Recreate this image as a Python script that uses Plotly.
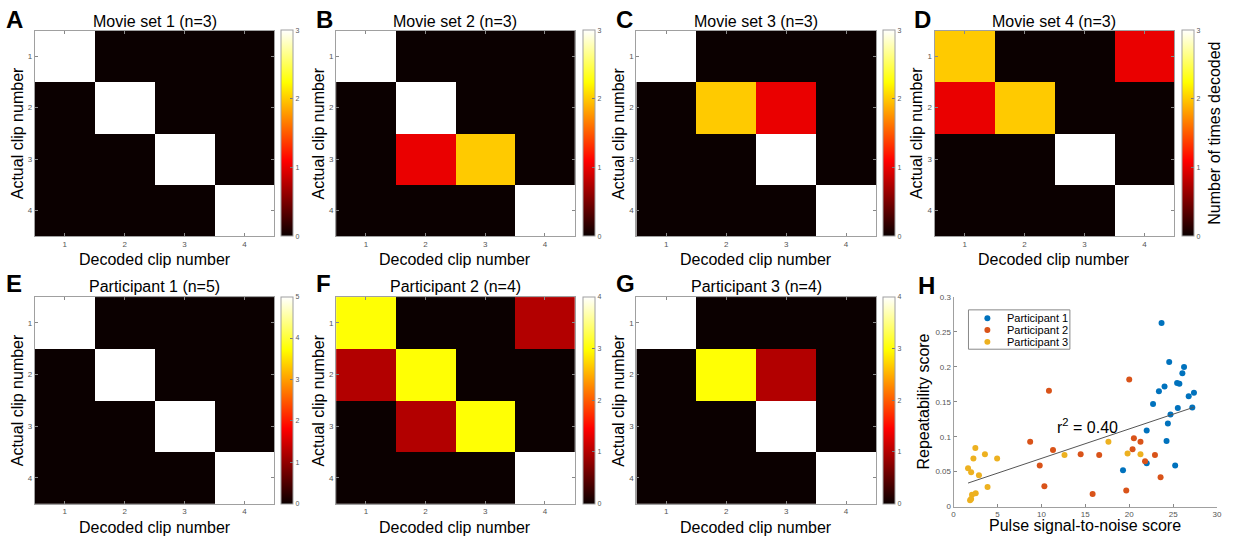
import numpy as np
import plotly.graph_objects as go

W, H = 1233, 546

# Confusion matrices: rows = actual clip, columns = decoded clip
clip_numbers = [1, 2, 3, 4]
movie_set_1 = [[3, 0, 0, 0], [0, 3, 0, 0], [0, 0, 3, 0], [0, 0, 0, 3]]
movie_set_2 = [[3, 0, 0, 0], [0, 3, 0, 0], [0, 1, 2, 0], [0, 0, 0, 3]]
movie_set_3 = [[3, 0, 0, 0], [0, 2, 1, 0], [0, 0, 3, 0], [0, 0, 0, 3]]
movie_set_4 = [[2, 0, 0, 1], [1, 2, 0, 0], [0, 0, 3, 0], [0, 0, 0, 3]]
participant_1 = [[5, 0, 0, 0], [0, 5, 0, 0], [0, 0, 5, 0], [0, 0, 0, 5]]
participant_2 = [[3, 0, 0, 1], [1, 3, 0, 0], [0, 1, 3, 0], [0, 0, 0, 4]]
participant_3 = [[4, 0, 0, 0], [0, 3, 1, 0], [0, 0, 4, 0], [0, 0, 0, 4]]

matrix_titles = ["Movie set 1 (n=3)", "Movie set 2 (n=3)", "Movie set 3 (n=3)",
                 "Movie set 4 (n=3)", "Participant 1 (n=5)", "Participant 2 (n=4)",
                 "Participant 3 (n=4)"]
matrix_letters = ["A", "B", "C", "D", "E", "F", "G"]
matrix_max = [3, 3, 3, 3, 5, 4, 4]

# Pulse SNR vs repeatability, per participant
p1_snr = [23.68, 24.55, 26.24, 26.05, 24.02, 23.38, 25.45, 25.71, 26.77, 27.37,
          22.71, 25.53, 27.18, 24.70, 24.40, 21.99, 24.25, 19.29, 21.99, 25.23]
p1_rep = [0.263, 0.207, 0.200, 0.191, 0.172, 0.165, 0.177, 0.176, 0.158, 0.163,
          0.147, 0.141, 0.142, 0.132, 0.119, 0.109, 0.094, 0.052, 0.062, 0.059]
p2_snr = [10.86, 8.72, 11.32, 9.81, 10.34, 14.47, 20.00, 20.53, 21.28, 20.38,
          22.93, 16.58, 21.80, 23.57, 15.83, 19.66]
p2_rep = [0.166, 0.093, 0.081, 0.059, 0.029, 0.075, 0.182, 0.098, 0.093, 0.082,
          0.074, 0.074, 0.065, 0.042, 0.018, 0.023]
p3_snr = [1.65, 2.00, 2.48, 2.26, 3.57, 4.96, 2.89, 3.87, 2.10, 2.52, 1.88, 2.00,
          12.63, 17.63, 19.81, 21.28]
p3_rep = [0.055, 0.049, 0.084, 0.069, 0.075, 0.069, 0.045, 0.028, 0.017, 0.019,
          0.009, 0.011, 0.074, 0.093, 0.076, 0.075]
participant_names = ["Participant 1", "Participant 2", "Participant 3"]

snr_ticks = [0, 5, 10, 15, 20, 25, 30]
rep_ticks = [0, 0.05, 0.1, 0.15, 0.2, 0.25, 0.3]

# MATLAB-style "hot" colormap
HOT = [[0.0, "rgb(11,0,0)"], [23 / 63, "rgb(255,0,0)"],
       [47 / 63, "rgb(255,255,0)"], [48 / 63, "rgb(255,255,16)"],
       [1.0, "rgb(255,255,255)"]]

FONT = "Liberation Sans, Arial, Helvetica, sans-serif"
TICK_GREY = "#555555"
LINE_GREY = "#a0a0a0"


def fx(p):
    return p / W


def fy(p):
    return 1 - p / H


# pixel boxes for the heatmap panels
row_y = [(27, 236), (298, 508)]
title_y = [18, 287]
letter_y = [16, 284]
col_x = [(33, 274), (336, 576), (638, 879), (938, 1179)]
letter_x = [2, 314, 615, 915]
cbar_x = [281, 584, 886, 1187]

matrices = [movie_set_1, movie_set_2, movie_set_3, movie_set_4,
            participant_1, participant_2, participant_3]

fig = go.Figure()
layout = dict(width=W, height=H, margin=dict(l=0, r=0, t=0, b=0),
              paper_bgcolor="white", plot_bgcolor="white",
              font=dict(family=FONT, color="black"), showlegend=False)
annotations = []
shapes = []

for k, z in enumerate(matrices):
    r, c = divmod(k, 4)
    x0, x1 = col_x[c]
    y0, y1 = row_y[r]
    ax = k + 1
    cb = dict(x=fx(cbar_x[c]), xanchor="left", y=fy(y1), yanchor="bottom",
              len=(y1 - y0) / H, lenmode="fraction", thickness=12,
              thicknessmode="pixels", outlinewidth=1, outlinecolor=LINE_GREY,
              ticks="inside", ticklen=3, tickcolor="#777",
              tickvals=list(range(matrix_max[k] + 1)),
              tickfont=dict(size=7, color=TICK_GREY, family=FONT),
              xpad=0, ypad=0, borderwidth=0)
    if k == 3:
        cb["title"] = dict(text="Number of times decoded", side="right",
                           font=dict(size=16, family=FONT, color="black"))
    fig.add_trace(go.Heatmap(z=z, x=clip_numbers, y=clip_numbers,
                             colorscale=HOT, zmin=0, zmax=matrix_max[k],
                             colorbar=cb, showscale=True,
                             xaxis=f"x{ax}", yaxis=f"y{ax}"))
    common = dict(range=[0.5, 4.5], tickvals=clip_numbers, ticks="inside",
                  ticklen=3, tickcolor="#888", showline=True, mirror="ticks",
                  linecolor=LINE_GREY, linewidth=1, showgrid=False,
                  zeroline=False, tickfont=dict(size=8, color=TICK_GREY),
                  fixedrange=True)
    layout[f"xaxis{ax}"] = dict(domain=[fx(x0), fx(x1)], anchor=f"y{ax}", **common)
    yc = dict(common)
    yc["range"] = [4.5, 0.5]
    layout[f"yaxis{ax}"] = dict(domain=[fy(y1), fy(y0)], anchor=f"x{ax}", **yc)

    cx = (x0 + x1) / 2
    annotations.append(dict(text=matrix_titles[k], x=fx(cx), y=fy(title_y[r]),
                            xref="paper", yref="paper", showarrow=False,
                            font=dict(size=16), xanchor="center", yanchor="middle"))
    annotations.append(dict(text=f"<b>{matrix_letters[k]}</b>", x=fx(letter_x[c]),
                            y=fy(letter_y[r]), xref="paper", yref="paper",
                            showarrow=False, font=dict(size=24),
                            xanchor="left", yanchor="middle"))
    annotations.append(dict(text="Decoded clip number", x=fx(cx), y=fy(y1 + 24),
                            xref="paper", yref="paper", showarrow=False,
                            font=dict(size=16), xanchor="center", yanchor="middle"))
    annotations.append(dict(text="Actual clip number", x=fx(x0 - 18),
                            y=fy((y0 + y1) / 2), xref="paper", yref="paper",
                            showarrow=False, textangle=-90, font=dict(size=16),
                            xanchor="center", yanchor="middle"))

# Panel H: scatter with linear fit
colors = ["#0072BD", "#D95319", "#EDB120"]
groups = [(p1_snr, p1_rep), (p2_snr, p2_rep), (p3_snr, p3_rep)]
for (xs, ys), name, col in zip(groups, participant_names, colors):
    fig.add_trace(go.Scatter(x=xs, y=ys, mode="markers", name=name,
                             marker=dict(color=col, size=6),
                             xaxis="x8", yaxis="y8"))

all_x = np.array(p1_snr + p2_snr + p3_snr)
all_y = np.array(p1_rep + p2_rep + p3_rep)
slope, intercept = np.polyfit(all_x, all_y, 1)
fit_x = np.array([all_x.min(), all_x.max()])
fig.add_trace(go.Scatter(x=fit_x, y=slope * fit_x + intercept, mode="lines",
                         line=dict(color="#555555", width=1), showlegend=False,
                         hoverinfo="skip", xaxis="x8", yaxis="y8"))

hx0, hx1, hy0, hy1 = 957, 1222, 298, 511
hcommon = dict(ticks="inside", ticklen=3, tickcolor="#888", showline=True,
               linecolor=LINE_GREY, linewidth=1, showgrid=False, zeroline=False,
               tickfont=dict(size=8, color=TICK_GREY), fixedrange=True)
layout["xaxis8"] = dict(domain=[fx(hx0), fx(hx1)], anchor="y8", range=[0, 30],
                        tickvals=snr_ticks, **hcommon)
layout["yaxis8"] = dict(domain=[fy(hy1), fy(hy0)], anchor="x8", range=[0, 0.3],
                        tickvals=rep_ticks, **hcommon)

# compact legend box for panel H
lg_x0, lg_x1, lg_y0, lg_y1 = 972, 1074, 311, 351
shapes.append(dict(type="rect", xref="paper", yref="paper",
                   x0=fx(lg_x0), x1=fx(lg_x1), y0=fy(lg_y1), y1=fy(lg_y0),
                   line=dict(color="#888", width=1), fillcolor="white", layer="above"))
for i, (name, col) in enumerate(zip(participant_names, colors)):
    cy = 319.5 + 12 * i
    shapes.append(dict(type="circle", xref="paper", yref="paper",
                       x0=fx(988), x1=fx(994), y0=fy(cy + 3), y1=fy(cy - 3),
                       line=dict(width=0), fillcolor=col, layer="above"))
    annotations.append(dict(text=name, x=fx(1009), y=fy(cy), xref="paper",
                            yref="paper", showarrow=False, font=dict(size=11),
                            xanchor="left", yanchor="middle"))

annotations += [
    dict(text="<b>H</b>", x=fx(919), y=fy(286), xref="paper", yref="paper",
         showarrow=False, font=dict(size=24), xanchor="left", yanchor="middle"),
    dict(text="Pulse signal-to-noise score", x=fx((hx0 + hx1) / 2), y=fy(530),
         xref="paper", yref="paper", showarrow=False, font=dict(size=16),
         xanchor="center", yanchor="middle"),
    dict(text="Repeatability score", x=fx(927), y=fy((hy0 + hy1) / 2),
         xref="paper", yref="paper", showarrow=False, textangle=-90,
         font=dict(size=16), xanchor="center", yanchor="middle"),
    dict(text="r<sup>2</sup> = 0.40", x=fx(1092), y=fy(429), xref="paper",
         yref="paper", showarrow=False, font=dict(size=16),
         xanchor="center", yanchor="middle"),
]
layout["annotations"] = annotations
layout["shapes"] = shapes

fig.update_layout(**layout)
fig.write_html("out.html")
